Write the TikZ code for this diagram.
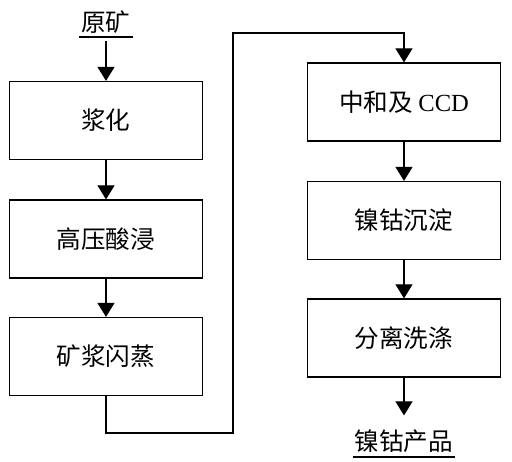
\documentclass[tikz,border=0pt]{standalone}
\usepackage{fontspec}
\setmainfont{Liberation Serif}
\newfontfamily\cjk{Noto Sans CJK SC}
\usetikzlibrary{arrows.meta}

\tikzset{
    procbox/.style={draw, line width=0.7pt, minimum width=3.85cm, minimum height=1.56cm,
        font=\fontsize{14pt}{17pt}\selectfont\cjk},
    endlabel/.style={inner xsep=1pt, inner ysep=2pt, font=\fontsize{14pt}{17pt}\selectfont\cjk},
    flow/.style={line width=0.6pt, -{Triangle[length=0.28cm, width=0.34cm]}},
}

\begin{document}
\begin{tikzpicture}[x=0.02cm, y=-0.02cm]
        \useasboundingbox (0,0) rectangle (512,462);

        % left column
        \foreach \n/\y/\t in {1/120.5/浆化, 2/239/高压酸浸, 3/356.5/矿浆闪蒸} {
            \node[procbox] (l\n) at (106,\y) {\t};
        }
        % right column
        \node[procbox] (r1) at (404,102) {中和及 {\rmfamily CCD}};
        \node[procbox] (r2) at (404,220.5) {镍钴沉淀};
        \node[procbox] (r3) at (404,338) {分离洗涤};

        % feed and product
        \node[endlabel, anchor=south] (ore) at (106,37) {原矿};
        \draw[line width=0.6pt] (ore.south west) -- (ore.south east);
        \node[endlabel, anchor=south] (prod) at (404,457) {镍钴产品};
        \draw[line width=0.6pt] (prod.south west) -- (prod.south east);

        \draw[flow, shorten <=0.08cm] (ore.south) -- (l1.north);
        \foreach \a/\b in {l1/l2, l2/l3, r1/r2, r2/r3} {
            \draw[flow] (\a.south) -- (\b.north);
        }
        \draw[flow, shorten >=0.22cm] (r3.south) -- (prod.north);

        % transfer line
        \coordinate (bendA) at (233,433);
        \coordinate (bendB) at (233,33);
        \draw[flow] (l3.south) |- (bendA) -- (bendB) -| (r1.north);
    \end{tikzpicture}
\end{document}
